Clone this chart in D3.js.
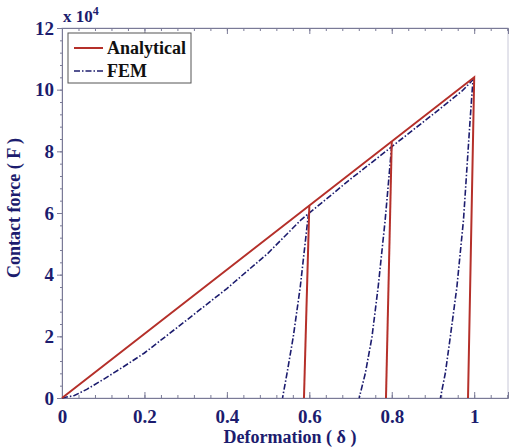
<!DOCTYPE html>
<html>
<head>
<meta charset="utf-8">
<script src="https://cdn.jsdelivr.net/npm/d3@7"></script>
<style>
  body { margin: 0; background: #fff; }
  svg text { font-family: "Liberation Serif", "Times New Roman", serif; font-weight: bold; }
</style>
</head>
<body>
<svg id="chart" width="511" height="448"></svg>
<script>
// Values (force in units of 1e4)
const xTicks = [0, 0.2, 0.4, 0.6, 0.8, 1];
const yTicks = [0, 2, 4, 6, 8, 10, 12];

// Analytical: linear loading then near-vertical unloading branches
const analyticalLoad = [[0, 0], [1.0, 10.4], [0.985, 0]];
const analyticalUnload1 = [[0.6, 6.24], [0.587, 0]];
const analyticalUnload2 = [[0.8, 8.32], [0.786, 0]];

// FEM: curved start, then unloading curves
const femLoad = [[0, 0], [0.03, 0.08], [0.06, 0.28], [0.1, 0.6], [0.15, 1.02], [0.2, 1.46],
  [0.3, 2.5], [0.4, 3.55], [0.5, 4.7], [0.58, 5.78], [0.7, 7.1], [0.8, 8.15],
  [0.9, 9.2], [0.97, 9.95], [0.997, 10.32], [0.99, 9.0], [0.974, 5.77], [0.958, 3.6],
  [0.942, 1.98], [0.93, 0.81], [0.918, 0]];
const femUnload1 = [[0.599, 6.0], [0.597, 5.87], [0.578, 3.6], [0.561, 1.98], [0.546, 0.81], [0.535, 0]];
const femUnload2 = [[0.8, 8.2], [0.784, 5.77], [0.767, 3.6], [0.752, 1.98], [0.736, 0.81], [0.721, 0]];

const navy = "#1c1c6e";
const red = "#b5302a";

const svg = d3.select("#chart");
const margin = { left: 62, right: 3, top: 28, bottom: 50 };
const W = 511, H = 448;

const x = d3.scaleLinear().domain([0, 1.082]).range([margin.left, W - margin.right]);
const y = d3.scaleLinear().domain([0, 12]).range([H - margin.bottom, margin.top]);

const minorX = d3.range(0, 1.081, 0.04);
const minorY = d3.range(0, 12.01, 0.4);

// frame
svg.append("rect")
  .attr("x", x(0)).attr("y", y(12))
  .attr("width", x(1.082) - x(0)).attr("height", y(0) - y(12))
  .attr("fill", "none").attr("stroke", "#c8c8d8").attr("stroke-width", 1);

// bottom axis
svg.append("g").attr("transform", `translate(0,${y(0)})`)
  .call(d3.axisBottom(x).tickValues(xTicks).tickSize(-6).tickFormat(d3.format("~g")).tickPadding(12));
svg.append("g").attr("transform", `translate(0,${y(0)})`)
  .call(d3.axisBottom(x).tickValues(minorX).tickSize(-3).tickFormat(""))
  .select(".domain").remove();

// top axis
svg.append("g").attr("transform", `translate(0,${y(12)})`)
  .call(d3.axisTop(x).tickValues(xTicks).tickSize(-6).tickFormat(""));
svg.append("g").attr("transform", `translate(0,${y(12)})`)
  .call(d3.axisTop(x).tickValues(minorX).tickSize(-3).tickFormat(""))
  .select(".domain").remove();

// left axis
svg.append("g").attr("transform", `translate(${x(0)},0)`)
  .call(d3.axisLeft(y).tickValues(yTicks).tickSize(5).tickPadding(3));
svg.append("g").attr("transform", `translate(${x(0)},0)`)
  .call(d3.axisLeft(y).tickValues(minorY).tickSize(2).tickFormat(""))
  .select(".domain").remove();

svg.selectAll(".domain").attr("stroke", "#7a7a96");
svg.selectAll(".tick line").attr("stroke", "#7a7a96");
svg.selectAll(".tick text")
  .attr("fill", navy)
  .style("font-size", "19px")
  .style("font-family", "'Liberation Serif', serif")
  .style("font-weight", "bold");

// lines
const line = d3.line().x(d => x(d[0])).y(d => y(d[1]));

[femLoad, femUnload1, femUnload2].forEach(data => {
  svg.append("path").datum(data)
    .attr("d", line)
    .attr("fill", "none")
    .attr("stroke", navy)
    .attr("stroke-width", 1.6)
    .attr("stroke-dasharray", "6,2,1.5,2");
});

[analyticalLoad, analyticalUnload1, analyticalUnload2].forEach(data => {
  svg.append("path").datum(data)
    .attr("d", line)
    .attr("fill", "none")
    .attr("stroke", red)
    .attr("stroke-width", 2);
});

// multiplier label
const mult = svg.append("text").attr("x", 63).attr("y", 22).attr("fill", navy).style("font-size", "17px");
mult.append("tspan").text("x 10");
mult.append("tspan").attr("dy", -7).style("font-size", "12px").text("4");

// legend
const lg = svg.append("g");
lg.append("rect").attr("x", 68).attr("y", 33).attr("width", 123).attr("height", 50)
  .attr("fill", "#fff").attr("stroke", "#555").attr("stroke-width", 1);
lg.append("line").attr("x1", 74).attr("x2", 103).attr("y1", 48).attr("y2", 48)
  .attr("stroke", red).attr("stroke-width", 2);
lg.append("line").attr("x1", 74).attr("x2", 103).attr("y1", 71).attr("y2", 71)
  .attr("stroke", navy).attr("stroke-width", 1.6).attr("stroke-dasharray", "6,2,1.5,2");
lg.append("text").attr("x", 107).attr("y", 54).attr("fill", "#111").style("font-size", "18px").text("Analytical");
lg.append("text").attr("x", 107).attr("y", 77).attr("fill", "#111").style("font-size", "18px").text("FEM");

// axis titles
svg.append("text")
  .attr("x", 290).attr("y", 443)
  .attr("text-anchor", "middle")
  .attr("fill", navy).style("font-size", "18px")
  .text("Deformation ( δ )");

svg.append("text")
  .attr("transform", "translate(20,208) rotate(-90)")
  .attr("text-anchor", "middle")
  .attr("fill", navy).style("font-size", "18px")
  .text("Contact force ( F )");
</script>
</body>
</html>
